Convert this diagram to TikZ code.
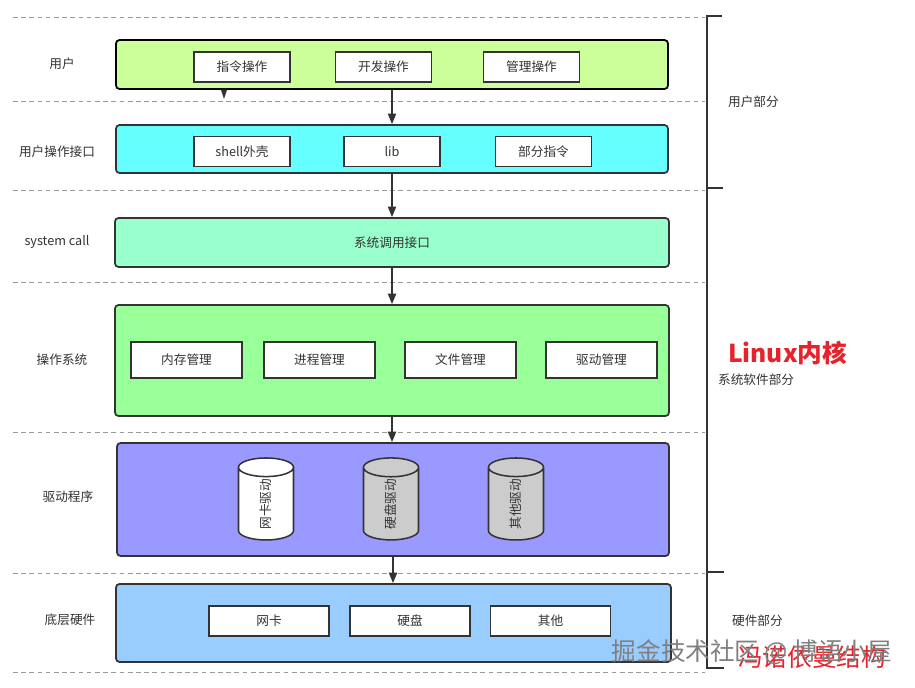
\documentclass[tikz,border=0pt]{standalone}
\usepackage{fontspec}
\setmainfont{Noto Sans CJK SC}
\usetikzlibrary{arrows.meta,shapes.geometric}
\definecolor{usergreen}{HTML}{CCFF99}
\definecolor{ifcyan}{HTML}{66FFFF}
\definecolor{callgreen}{HTML}{99FFCC}
\definecolor{osgreen}{HTML}{99FF99}
\definecolor{drvblue}{HTML}{9999FF}
\definecolor{hwblue}{HTML}{99CCFF}
\definecolor{drumgrey}{HTML}{CCCCCC}
\definecolor{ink}{HTML}{333333}
\definecolor{kernelred}{HTML}{E8222B}
\begin{document}
\begin{tikzpicture}[x=0.03cm,y=-0.03cm,
  font=\fontsize{10.8pt}{13pt}\selectfont,text=ink,
  layerbox/.style 2 args={draw=ink,line width=1.5pt,rounded corners=3pt,minimum width=#1*0.03cm,minimum height=#2*0.03cm,inner sep=0pt},
  itembox/.style 2 args={draw=ink,line width=1.3pt,fill=white,minimum width=#1*0.03cm,minimum height=#2*0.03cm,inner sep=0pt},
  drum/.style={cylinder,draw=ink,line width=1.3pt,rotate=90,aspect=1.6,minimum width=55*0.03cm,minimum height=82*0.03cm,inner sep=0pt},
  sepline/.style={draw=black!40,dash pattern=on 4pt off 3pt,line width=0.6pt},
  flow/.style={draw=ink,line width=1.4pt,-{Triangle[width=7pt,length=9pt]}},
  bigtext/.style={font=\fontsize{21pt}{24pt}\selectfont}]
\fill[white] (0,0) rectangle (915,687);
\useasboundingbox (0,0) rectangle (915,687);
\foreach \y in {17,101,190,282,432,573,672} \draw[sepline](13,\y)--(705,\y);
% left labels
\node (luser) at (62,64) {用户};
\node (luif) at (57,152) {用户操作接口};
\node (lsys) at (57,242) {system call};
\node (los) at (62,360) {操作系统};
\node (ldrv) at (68,497) {驱动程序};
\node (lhw) at (70,620) {底层硬件};
% layers
\node[layerbox={552}{49},draw=black,fill=usergreen] (user) at (392,64.5) {};
\node[layerbox={552}{48},fill=ifcyan] (uif) at (392,149) {};
\node[layerbox={554}{49},fill=callgreen] (sys) at (392,242.5) {系统调用接口};
\node[layerbox={554}{111},fill=osgreen] (os) at (392,360.5) {};
\node[layerbox={552}{113},fill=drvblue] (drv) at (393,499.5) {};
\node[layerbox={555}{78},fill=hwblue] (hw) at (393.5,623) {};
\foreach \t/\x [count=\i] in {指令操作/242,开发操作/383.5,管理操作/531.5}
  \node[itembox={96}{30}] (u\i) at (\x,67) {\t};
\foreach \t/\x [count=\i] in {shell外壳/242,lib/392,部分指令/543.5}
  \node[itembox={96}{30}] (f\i) at (\x,151.5) {\t};
\foreach \t/\x [count=\i] in {内存管理/186.5,进程管理/319.5,文件管理/460.5,驱动管理/601.5}
  \node[itembox={111}{36}] (o\i) at (\x,360) {\t};
\node[drum,fill=white] (d1) at (266,504) {网卡驱动};
\node[drum,fill=drumgrey] (d2) at (391,504) {硬盘驱动};
\node[drum,fill=drumgrey] (d3) at (516,504) {其他驱动};
\foreach \t/\x [count=\i] in {网卡/269,硬盘/410,其他/550.5}
  \node[itembox={120}{30}] (h\i) at (\x,621) {\t};
% arrows
\coordinate (stub) at (224,99);
\draw[draw=ink,line width=1.2pt,-{Triangle[width=5pt,length=8pt]}] (user.south -| stub)--(stub);
\draw[flow] (user.south)--(uif.north);
\draw[flow] (uif.south)--(sys.north);
\draw[flow] (sys.south)--(os.north);
\draw[flow] (os.south)--(os.south |- drv.north);
\draw[flow] (drv.south)--(drv.south |- hw.north);
% bracket
\draw[draw=ink,line width=1.5pt] (722,16)--(707,16)--(707,668)--(724,668);
\draw[draw=ink,line width=1.5pt] (707,188)--(723,188) (707,572)--(724,572);
\node[anchor=west] (ruser) at (724,102) {用户部分};
\node[anchor=west,bigtext,text=kernelred] (kernel) at (724,353) {\bfseries Linux内核};
\node[anchor=west] (rsys) at (714,380) {系统软件部分};
\node[anchor=west] (rhw) at (728,621) {硬件部分};
% watermark
\node[bigtext,text=kernelred] (wmred) at (812,657) {冯诺依曼结构};
\node[bigtext,text=black!50] (wmgrey) at (752,652) {掘金技术社区 @ 博语小屋};
\end{tikzpicture}
\end{document}
